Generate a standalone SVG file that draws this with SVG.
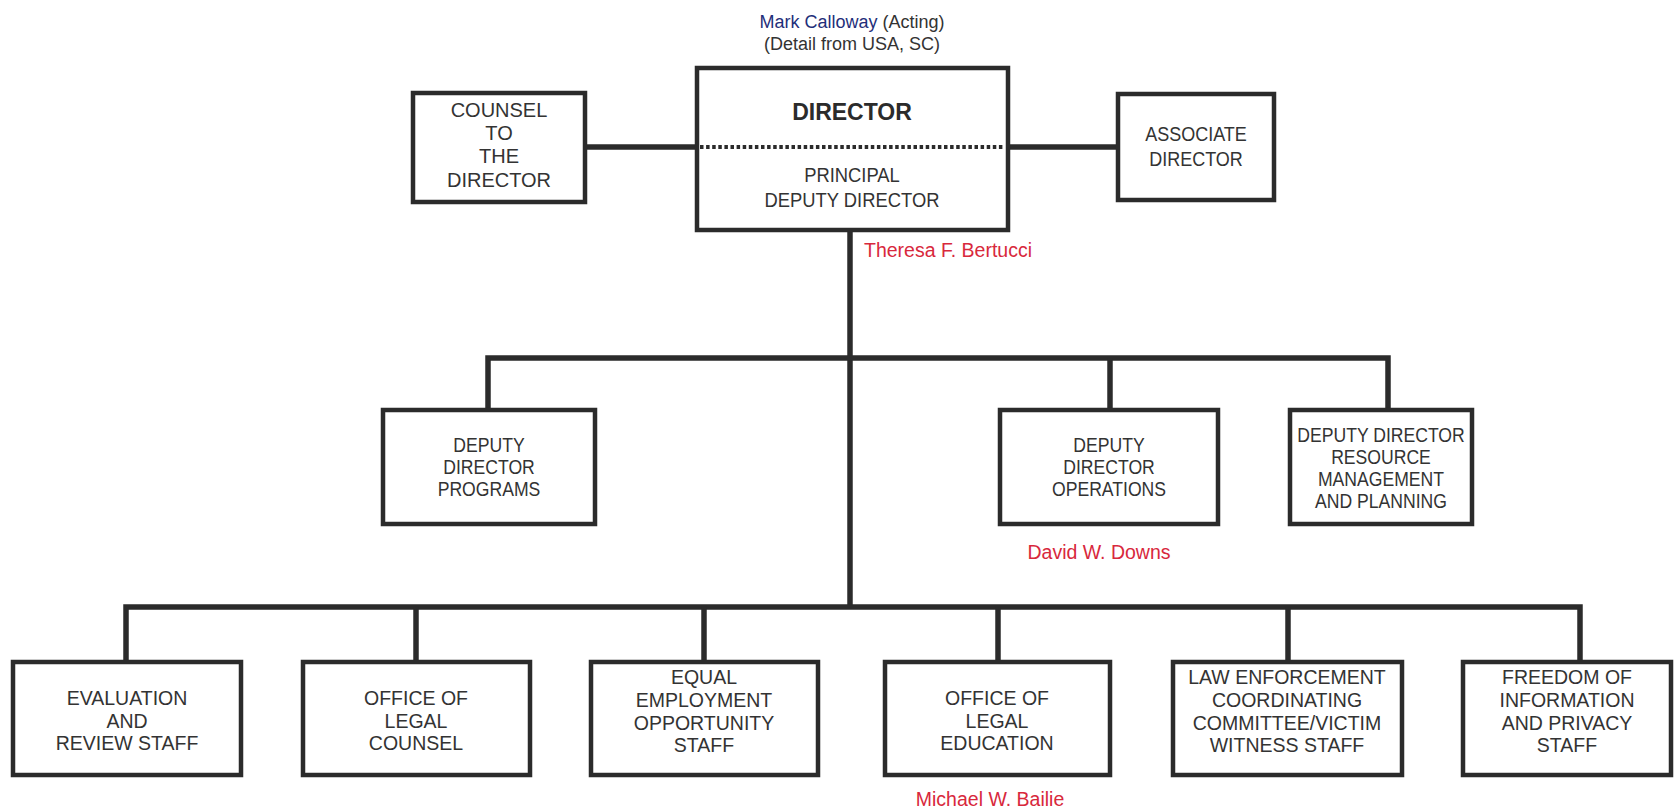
<svg xmlns="http://www.w3.org/2000/svg" width="1676" height="810" viewBox="0 0 1676 810">
  <style>
    .box { fill: #ffffff; stroke: #2b2b2b; stroke-width: 4.5; }
    .wire { fill: none; stroke: #2b2b2b; stroke-width: 5.5; stroke-linejoin: miter; }
    .dots { fill: none; stroke: #2b2b2b; stroke-width: 4; stroke-dasharray: 3.5 2.6; }
    text { font-family: "Liberation Sans", Arial, sans-serif; font-size: 20px; fill: #333333; text-anchor: middle; }
    .bold { font-weight: bold; font-size: 23px; fill: #2b2b2b; }
    .small { font-size: 18px; }
    .row3 { font-size: 19.5px; }
    .name { fill: #d8283c; font-size: 19.5px; }
    .navy { fill: #1f2f7a; }
  </style>

  <rect width="1676" height="810" fill="#ffffff"/>

  <!-- connectors -->
  <g id="connectors">
    <line class="wire" x1="585" y1="147" x2="697" y2="147"/>
    <line class="wire" x1="1008" y1="147" x2="1118" y2="147"/>
    <line class="wire" x1="850" y1="230" x2="850" y2="607"/>
    <polyline class="wire" points="488,410 488,358 1388,358 1388,410"/>
    <line class="wire" x1="1110" y1="358" x2="1110" y2="410"/>
    <polyline class="wire" points="126,662 126,607 1580,607 1580,662"/>
    <line class="wire" x1="416" y1="607" x2="416" y2="662"/>
    <line class="wire" x1="704" y1="607" x2="704" y2="662"/>
    <line class="wire" x1="998" y1="607" x2="998" y2="662"/>
    <line class="wire" x1="1288" y1="607" x2="1288" y2="662"/>
  </g>

  <!-- director / principal deputy -->
  <g id="director">
    <text class="small" x="852" y="28"><tspan class="navy">Mark Calloway</tspan> (Acting)</text>
    <text class="small" x="852" y="50">(Detail from USA, SC)</text>
    <rect class="box" x="697" y="68" width="311" height="162"/>
    <line class="dots" x1="700" y1="147" x2="1005" y2="147"/>
    <text class="bold" x="852" y="120">DIRECTOR</text>
    <g transform="translate(852 0) scale(0.92 1)">
      <text x="0" y="182">PRINCIPAL</text>
      <text x="0" y="207">DEPUTY DIRECTOR</text>
    </g>
    <text class="name" x="864" y="257" style="text-anchor:start">Theresa F. Bertucci</text>
  </g>

  <g id="counsel">
    <rect class="box" x="413" y="93" width="172" height="109"/>
    <text x="499" y="117">COUNSEL</text>
    <text x="499" y="140">TO</text>
    <text x="499" y="163">THE</text>
    <text x="499" y="187">DIRECTOR</text>
  </g>

  <g id="associate">
    <rect class="box" x="1118" y="94" width="156" height="106"/>
    <g transform="translate(1196 0) scale(0.9 1)">
      <text x="0" y="141">ASSOCIATE</text>
      <text x="0" y="166">DIRECTOR</text>
    </g>
  </g>

  <!-- deputy directors -->
  <g id="dd-programs">
    <rect class="box" x="383" y="410" width="212" height="114"/>
    <g transform="translate(489 0) scale(0.88 1)">
      <text x="0" y="452">DEPUTY</text>
      <text x="0" y="474">DIRECTOR</text>
      <text x="0" y="496">PROGRAMS</text>
    </g>
  </g>

  <g id="dd-operations">
    <rect class="box" x="1000" y="410" width="218" height="114"/>
    <g transform="translate(1109 0) scale(0.88 1)">
      <text x="0" y="452">DEPUTY</text>
      <text x="0" y="474">DIRECTOR</text>
      <text x="0" y="496">OPERATIONS</text>
    </g>
    <text class="name" x="1099" y="559">David W. Downs</text>
  </g>

  <g id="dd-resources">
    <rect class="box" x="1290" y="410" width="182" height="114"/>
    <g transform="translate(1381 0) scale(0.88 1)">
      <text x="0" y="442">DEPUTY DIRECTOR</text>
      <text x="0" y="464">RESOURCE</text>
      <text x="0" y="486">MANAGEMENT</text>
      <text x="0" y="508">AND PLANNING</text>
    </g>
  </g>

  <!-- staff offices -->
  <g id="evaluation">
    <rect class="box" x="13" y="662" width="228" height="113"/>
    <text class="row3" x="127" y="705">EVALUATION</text>
    <text class="row3" x="127" y="728">AND</text>
    <text class="row3" x="127" y="750">REVIEW STAFF</text>
  </g>

  <g id="legal-counsel">
    <rect class="box" x="303" y="662" width="227" height="113"/>
    <text class="row3" x="416" y="705">OFFICE OF</text>
    <text class="row3" x="416" y="728">LEGAL</text>
    <text class="row3" x="416" y="750">COUNSEL</text>
  </g>

  <g id="eeo">
    <rect class="box" x="591" y="662" width="227" height="113"/>
    <text class="row3" x="704" y="684">EQUAL</text>
    <text class="row3" x="704" y="707">EMPLOYMENT</text>
    <text class="row3" x="704" y="730">OPPORTUNITY</text>
    <text class="row3" x="704" y="752">STAFF</text>
  </g>

  <g id="legal-education">
    <rect class="box" x="885" y="662" width="225" height="113"/>
    <text class="row3" x="997" y="705">OFFICE OF</text>
    <text class="row3" x="997" y="728">LEGAL</text>
    <text class="row3" x="997" y="750">EDUCATION</text>
    <text class="name" x="990" y="806">Michael W. Bailie</text>
  </g>

  <g id="law-enforcement">
    <rect class="box" x="1173" y="662" width="229" height="113"/>
    <text class="row3" x="1287" y="684">LAW ENFORCEMENT</text>
    <text class="row3" x="1287" y="707">COORDINATING</text>
    <text class="row3" x="1287" y="730">COMMITTEE/VICTIM</text>
    <text class="row3" x="1287" y="752">WITNESS STAFF</text>
  </g>

  <g id="foia">
    <rect class="box" x="1463" y="662" width="208" height="113"/>
    <text class="row3" x="1567" y="684">FREEDOM OF</text>
    <text class="row3" x="1567" y="707">INFORMATION</text>
    <text class="row3" x="1567" y="730">AND PRIVACY</text>
    <text class="row3" x="1567" y="752">STAFF</text>
  </g>
</svg>
